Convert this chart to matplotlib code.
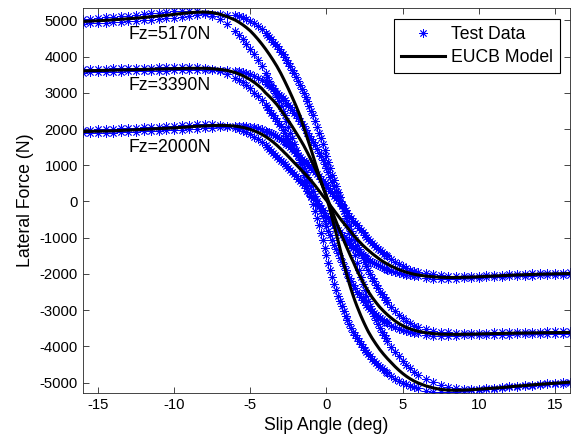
import numpy as np
import matplotlib
matplotlib.use("Agg")
import matplotlib.pyplot as plt

plt.rcParams['font.family'] = ['Liberation Sans', 'DejaVu Sans']
plt.rcParams['axes.unicode_minus'] = False

# slip angle grid (deg): coarse on the flat parts, finer through the steep part
slip = np.concatenate([np.arange(-16, -6.25, 0.5),
                       np.arange(-6, -4.125, 0.25),
                       np.arange(-4, 4.0625, 0.125),
                       np.arange(4.25, 6.125, 0.25),
                       np.arange(6.5, 16.25, 0.5)])

# EUCB model, lateral force (N)
model_5170 = [4970, 4980, 4990, 5000, 5015, 5030, 5045, 5060, 5080, 5100,
              5120, 5140, 5165, 5190, 5210, 5225, 5230, 5215, 5170, 5100,
              5010, 4950, 4880, 4800, 4710, 4600, 4480, 4350,
              4210, 4135, 4060, 3980, 3900, 3815, 3730, 3635, 3540, 3435,
              3330, 3220, 3110, 2995, 2880, 2760, 2640, 2510, 2380, 2220,
              2060, 1900, 1740, 1580, 1420, 1250, 1080, 910, 740, 580,
              420, 270, 120, -70, -260, -460, -660, -865, -1070, -1280,
              -1490, -1700, -1900, -2090, -2270, -2440, -2600, -2750, -2890, -3020,
              -3150, -3270, -3385, -3495, -3600, -3690, -3780, -3860, -3940, -4015,
              -4090, -4155, -4220, -4280, -4340,
              -4450, -4560, -4660, -4750, -4830, -4900, -4960, -5010,
              -5090, -5150, -5190, -5210, -5215, -5210, -5200, -5185, -5170, -5155,
              -5140, -5120, -5100, -5085, -5065, -5050, -5035, -5020, -5005, -4990]
model_3390 = [3605, 3610, 3615, 3620, 3625, 3630, 3635, 3640, 3645, 3650,
              3655, 3660, 3665, 3670, 3675, 3675, 3675, 3665, 3645, 3615,
              3560, 3520, 3475, 3420, 3360, 3290, 3210, 3120,
              3000, 2950, 2900, 2845, 2790, 2730, 2670, 2600, 2530, 2455,
              2380, 2305, 2230, 2150, 2070, 1985, 1900, 1815, 1730, 1640,
              1550, 1450, 1350, 1245, 1140, 1030, 920, 800, 680, 550,
              420, 285, 150, 10, -130, -270, -410, -545, -680, -810,
              -940, -1065, -1190, -1310, -1430, -1550, -1660, -1780, -1900, -2005,
              -2110, -2210, -2310, -2400, -2490, -2570, -2650, -2720, -2790, -2855,
              -2920, -2975, -3030, -3080, -3130,
              -3220, -3300, -3370, -3430, -3480, -3520, -3555, -3585,
              -3625, -3650, -3665, -3670, -3670, -3668, -3665, -3660, -3655, -3650,
              -3645, -3640, -3637, -3634, -3631, -3628, -3625, -3622, -3620, -3618]
model_2000 = [1930, 1935, 1940, 1945, 1950, 1960, 1970, 1980, 1990, 2000,
              2010, 2020, 2030, 2045, 2060, 2075, 2085, 2095, 2100, 2095,
              2080, 2065, 2045, 2020, 1990, 1950, 1905, 1855,
              1790, 1755, 1720, 1680, 1640, 1595, 1550, 1500, 1450, 1400,
              1345, 1295, 1240, 1185, 1130, 1075, 1020, 965, 910, 855,
              800, 745, 690, 630, 570, 505, 440, 370, 300, 230,
              160, 95, 30, -40, -110, -180, -250, -320, -390, -460,
              -530, -595, -660, -725, -790, -855, -920, -980, -1040, -1095,
              -1150, -1205, -1255, -1305, -1350, -1395, -1440, -1480, -1520, -1560,
              -1600, -1635, -1670, -1700, -1730,
              -1785, -1835, -1880, -1920, -1955, -1985, -2010, -2030,
              -2060, -2080, -2095, -2100, -2100, -2095, -2090, -2080, -2070, -2060,
              -2050, -2040, -2030, -2025, -2015, -2010, -2005, -2000, -1995, -1990]

# test data, two sweep branches per load (upper/right and lower/left)
test_5170_up = [4910, 4915, 4925, 4935, 4945, 4955, 4970, 4985, 5000, 5015,
                5035, 5055, 5075, 5095, 5120, 5145, 5165, 5177, 5178, 5160,
                5140, 5120, 5080, 5035, 4980, 4915, 4840, 4755,
                4655, 4600, 4540, 4480, 4415, 4350, 4280, 4210, 4135, 4060,
                3980, 3900, 3815, 3730, 3635, 3540, 3435, 3330, 3220, 3110,
                2995, 2880, 2760, 2640, 2510, 2380, 2220, 2060, 1900, 1740,
                1580, 1420, 1250, 1080, 910, 740, 580, 420, 270, 120,
                -70, -260, -460, -660, -865, -1070, -1280, -1490, -1700, -1900,
                -2090, -2270, -2440, -2600, -2750, -2890, -3020, -3150, -3270, -3385,
                -3495, -3600, -3690, -3780, -3860,
                -4015, -4155, -4280, -4395, -4505, -4610, -4705, -4790,
                -4890, -4990, -5065, -5120, -5155, -5170, -5175, -5170, -5157, -5140,
                -5125, -5110, -5095, -5075, -5056, -5040, -5021, -5006, -4991, -4976]
test_5170_down = [5040, 5050, 5065, 5080, 5095, 5110, 5130, 5150, 5170, 5190,
                  5215, 5240, 5260, 5270, 5270, 5245, 5195, 5120, 5030, 4890,
                  4710, 4600, 4480, 4350, 4210, 4060, 3900, 3730,
                  3540, 3435, 3330, 3220, 3110, 2995, 2880, 2760, 2640, 2510,
                  2380, 2220, 2060, 1900, 1740, 1580, 1420, 1250, 1080, 910,
                  740, 580, 420, 270, 120, -70, -260, -460, -660, -865,
                  -1070, -1280, -1490, -1700, -1900, -2090, -2270, -2440, -2600, -2750,
                  -2890, -3020, -3150, -3270, -3385, -3495, -3600, -3690, -3780, -3860,
                  -3940, -4015, -4090, -4155, -4220, -4280, -4340, -4395, -4450, -4505,
                  -4560, -4610, -4660, -4705, -4750,
                  -4830, -4900, -4960, -5010, -5050, -5090, -5120, -5150,
                  -5240, -5260, -5265, -5260, -5250, -5235, -5220, -5205, -5190, -5170,
                  -5150, -5135, -5115, -5100, -5085, -5070, -5055, -5040, -5030, -5025]
test_3390_up = [3560, 3563, 3568, 3573, 3578, 3583, 3588, 3593, 3598, 3603,
                3608, 3613, 3618, 3623, 3628, 3633, 3635, 3635, 3630, 3620,
                3610, 3600, 3580, 3560, 3520, 3475, 3420, 3360,
                3290, 3250, 3210, 3165, 3120, 3060, 3000, 2950, 2900, 2845,
                2790, 2730, 2670, 2600, 2530, 2455, 2380, 2305, 2230, 2150,
                2070, 1985, 1900, 1815, 1730, 1640, 1550, 1450, 1350, 1245,
                1140, 1030, 920, 800, 680, 550, 420, 285, 150, 10,
                -130, -270, -410, -545, -680, -810, -940, -1065, -1190, -1310,
                -1430, -1550, -1660, -1780, -1900, -2005, -2110, -2210, -2310, -2400,
                -2490, -2570, -2650, -2720, -2790,
                -2920, -3030, -3130, -3220, -3300, -3370, -3430, -3480,
                -3515, -3565, -3598, -3618, -3628, -3630, -3629, -3626, -3622, -3617,
                -3612, -3607, -3602, -3598, -3595, -3592, -3589, -3586, -3583, -3580]
test_3390_down = [3653, 3658, 3663, 3668, 3673, 3678, 3683, 3688, 3693, 3698,
                  3703, 3708, 3713, 3715, 3713, 3705, 3685, 3655, 3605, 3530,
                  3420, 3360, 3290, 3210, 3120, 3000, 2900, 2790,
                  2670, 2600, 2530, 2455, 2380, 2305, 2230, 2150, 2070, 1985,
                  1900, 1815, 1730, 1640, 1550, 1450, 1350, 1245, 1140, 1030,
                  920, 800, 680, 550, 420, 285, 150, 10, -130, -270,
                  -410, -545, -680, -810, -940, -1065, -1190, -1310, -1430, -1550,
                  -1660, -1780, -1900, -2005, -2110, -2210, -2310, -2400, -2490, -2570,
                  -2650, -2720, -2790, -2855, -2920, -2975, -3030, -3080, -3130, -3175,
                  -3220, -3260, -3300, -3335, -3370,
                  -3430, -3480, -3520, -3555, -3585, -3605, -3625, -3638,
                  -3698, -3708, -3710, -3709, -3706, -3702, -3697, -3692, -3687, -3682,
                  -3678, -3675, -3672, -3669, -3666, -3663, -3660, -3658, -3657, -3656]
test_2000_up = [1885, 1888, 1893, 1898, 1903, 1908, 1915, 1925, 1935, 1945,
                1955, 1965, 1975, 1985, 1998, 2013, 2028, 2040, 2050, 2065,
                2075, 2080, 2078, 2072, 2065, 2045, 2020, 1990,
                1950, 1928, 1905, 1880, 1855, 1823, 1790, 1755, 1720, 1680,
                1640, 1595, 1550, 1500, 1450, 1400, 1345, 1295, 1240, 1185,
                1130, 1075, 1020, 965, 910, 855, 800, 745, 690, 630,
                570, 505, 440, 370, 300, 230, 160, 95, 30, -40,
                -110, -180, -250, -320, -390, -460, -530, -595, -660, -725,
                -790, -855, -920, -980, -1040, -1095, -1150, -1205, -1255, -1305,
                -1350, -1395, -1440, -1480, -1520,
                -1600, -1670, -1730, -1785, -1835, -1880, -1920, -1955,
                -1970, -2005, -2030, -2048, -2058, -2060, -2058, -2053, -2045, -2035,
                -2025, -2015, -2005, -1995, -1988, -1980, -1973, -1968, -1963, -1958]
test_2000_down = [1978, 1983, 1988, 1995, 2005, 2015, 2025, 2035, 2045, 2055,
                  2065, 2078, 2093, 2108, 2120, 2128, 2133, 2125, 2105, 2075,
                  2030, 1990, 1950, 1905, 1855, 1790, 1720, 1640,
                  1550, 1500, 1450, 1400, 1345, 1295, 1240, 1185, 1130, 1075,
                  1020, 965, 910, 855, 800, 745, 690, 630, 570, 505,
                  440, 370, 300, 230, 160, 95, 30, -40, -110, -180,
                  -250, -320, -390, -460, -530, -595, -660, -725, -790, -855,
                  -920, -980, -1040, -1095, -1150, -1205, -1255, -1305, -1350, -1395,
                  -1440, -1480, -1520, -1560, -1600, -1635, -1670, -1700, -1730, -1758,
                  -1785, -1810, -1835, -1858, -1880,
                  -1920, -1955, -1985, -2010, -2030, -2045, -2060, -2070,
                  -2128, -2138, -2140, -2138, -2133, -2125, -2115, -2105, -2095, -2085,
                  -2075, -2068, -2060, -2053, -2048, -2043, -2038, -2034, -2030, -2027]

loads = ['Fz=5170N', 'Fz=3390N', 'Fz=2000N']
label_pos = [(-13, 4600), (-13, 3200), (-13, 1500)]

tests = [test_5170_up, test_5170_down, test_3390_up, test_3390_down,
         test_2000_up, test_2000_down]
models = [model_5170, model_3390, model_2000]

fig = plt.figure(figsize=(5.77, 4.47), dpi=100)
ax = fig.add_axes([0.1433, 0.1208, 0.845, 0.8612])

asterisk = (8, 2, 0)
for i, t in enumerate(tests):
    ax.plot(slip, t, linestyle='none', marker=asterisk, color='blue',
            markersize=6, markeredgewidth=0.6,
            label='Test Data' if i == 0 else None)
for i, m in enumerate(models):
    ax.plot(slip, m, color='black', linewidth=2.2,
            label='EUCB Model' if i == 0 else None)

for txt, (xt, yt) in zip(loads, label_pos):
    ax.text(xt, yt, txt, fontsize=12.7, va='center', ha='left')

ax.set_xlim(-16, 16)
ax.set_ylim(-5290, 5340)
ax.set_xticks([-15, -10, -5, 0, 5, 10, 15])
ax.set_yticks(np.arange(-5000, 5001, 1000))
ax.tick_params(direction='in', length=4, width=0.6, labelsize=10.7,
               top=True, right=True, colors='0.15', labelcolor='black')
for s in ax.spines.values():
    s.set_color('0.15')
    s.set_linewidth(0.6)

ax.set_xlabel('Slip Angle (deg)', fontsize=12.7)
ax.set_ylabel('Lateral Force (N)', fontsize=12.7)

leg = ax.legend(loc='upper right', fontsize=12.7, handlelength=2.5,
                fancybox=False, edgecolor='black', framealpha=1,
                borderaxespad=0.6, borderpad=0.4, labelspacing=0.35,
                handletextpad=0.3)
leg.get_frame().set_linewidth(0.8)

fig.savefig('out.png', dpi=100)
